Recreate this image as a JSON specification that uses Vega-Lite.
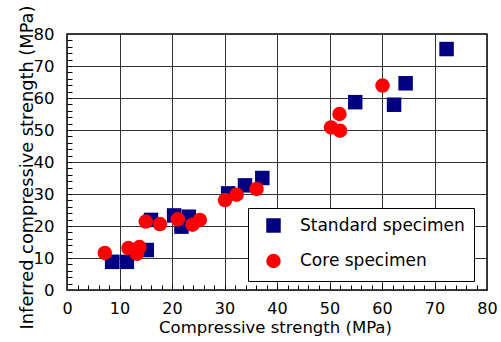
{
  "$schema": "https://vega.github.io/schema/vega-lite/v6.json",
  "width": 420,
  "height": 256,
  "autosize": {"type": "none"},
  "padding": {"left": 67, "top": 34, "right": 14, "bottom": 52},
  "background": "white",
  "config": {
    "view": {"stroke": "black", "strokeWidth": 1.5},
    "font": "DejaVu Sans",
    "axis": {"labelFont": "DejaVu Sans", "titleFont": "DejaVu Sans", "labelColor": "black", "titleColor": "black", "titleFontWeight": "normal"}
  },
  "data": {"values": [
    {"type": "Standard specimen", "x": 8.6, "y": 8.8},
    {"type": "Standard specimen", "x": 11.4, "y": 8.8},
    {"type": "Standard specimen", "x": 15.2, "y": 12.5},
    {"type": "Standard specimen", "x": 16.0, "y": 21.9},
    {"type": "Standard specimen", "x": 20.4, "y": 23.3},
    {"type": "Standard specimen", "x": 23.2, "y": 22.9},
    {"type": "Standard specimen", "x": 21.8, "y": 19.8},
    {"type": "Standard specimen", "x": 30.7, "y": 30.2},
    {"type": "Standard specimen", "x": 33.9, "y": 32.7},
    {"type": "Standard specimen", "x": 37.2, "y": 35.0},
    {"type": "Standard specimen", "x": 54.9, "y": 58.7},
    {"type": "Standard specimen", "x": 62.3, "y": 57.9},
    {"type": "Standard specimen", "x": 64.5, "y": 64.6},
    {"type": "Standard specimen", "x": 72.3, "y": 75.3},
    {"type": "Core specimen", "x": 7.2, "y": 11.6},
    {"type": "Core specimen", "x": 11.7, "y": 13.1},
    {"type": "Core specimen", "x": 13.8, "y": 13.4},
    {"type": "Core specimen", "x": 13.3, "y": 11.3},
    {"type": "Core specimen", "x": 15.0, "y": 21.4},
    {"type": "Core specimen", "x": 17.7, "y": 20.6},
    {"type": "Core specimen", "x": 21.1, "y": 22.1},
    {"type": "Core specimen", "x": 23.9, "y": 20.4},
    {"type": "Core specimen", "x": 25.3, "y": 21.9},
    {"type": "Core specimen", "x": 30.1, "y": 28.1},
    {"type": "Core specimen", "x": 32.3, "y": 29.8},
    {"type": "Core specimen", "x": 36.1, "y": 31.6},
    {"type": "Core specimen", "x": 50.3, "y": 50.8},
    {"type": "Core specimen", "x": 52.0, "y": 49.8},
    {"type": "Core specimen", "x": 51.9, "y": 55.0},
    {"type": "Core specimen", "x": 60.1, "y": 63.9}
  ]},
  "layer": [
    {
      "mark": {"type": "point", "opacity": 0},
      "encoding": {
        "x": {"field": "x", "type": "quantitative", "scale": {"domain": [0, 80], "nice": false, "zero": false},
          "axis": {"orient": "bottom", "offset": -5, "values": [2,4,6,8,10,12,14,16,18,20,22,24,26,28,30,32,34,36,38,40,42,44,46,48,50,52,54,56,58,60,62,64,66,68,70,72,74,76,78], "labels": false, "grid": false, "domain": false, "ticks": true, "tickSize": 5, "tickColor": "black", "tickWidth": 1, "tickOpacity": 1, "title": null}},
        "y": {"field": "y", "type": "quantitative", "scale": {"domain": [0, 80], "nice": false, "zero": false},
          "axis": {"orient": "left", "offset": -5, "values": [2,4,6,8,10,12,14,16,18,20,22,24,26,28,30,32,34,36,38,40,42,44,46,48,50,52,54,56,58,60,62,64,66,68,70,72,74,76,78], "labels": false, "grid": false, "domain": false, "ticks": true, "tickSize": 5, "tickColor": "black", "tickWidth": 1, "tickOpacity": 1, "title": null}}
      }
    },
    {
      "mark": {"type": "point", "filled": true, "opacity": 1, "size": 210},
      "encoding": {
        "x": {"field": "x", "type": "quantitative", "scale": {"domain": [0, 80], "nice": false, "zero": false},
          "axis": {"orient": "bottom", "values": [0,10,20,30,40,50,60,70,80], "grid": true, "gridColor": "#333", "gridWidth": 1, "gridOpacity": 1, "ticks": false, "tickSize": 0, "domain": false, "labelFontSize": 16, "labelPadding": 10, "labelFlush": false, "title": "Compressive strength (MPa)", "titleFontSize": 16.5, "titleBaseline": "alphabetic", "titleY": 42, "titleX": 208, "titleAnchor": "middle"}},
        "y": {"field": "y", "type": "quantitative", "scale": {"domain": [0, 80], "nice": false, "zero": false},
          "axis": {"orient": "left", "values": [0,10,20,30,40,50,60,70,80], "grid": true, "gridColor": "#333", "gridWidth": 1, "gridOpacity": 1, "ticks": false, "tickSize": 0, "domain": false, "labelFontSize": 16.5, "labelPadding": 13, "labelFlush": false, "title": "Inferred compressive strength (MPa)", "titleFontSize": 17.8, "titleAngle": -90, "titleBaseline": "alphabetic", "titleX": -35, "titleY": 133, "titleAlign": "center"}},
        "color": {"field": "type", "type": "nominal",
          "scale": {"domain": ["Standard specimen", "Core specimen"], "range": ["#000080", "#ff0000"]},
          "legend": {"title": null, "orient": "none", "legendX": 181, "legendY": 174, "fillColor": "white", "strokeColor": "black", "padding": 9, "rowPadding": 14.5, "symbolOffset": 8, "labelOffset": 18, "labelFontSize": 17, "labelFont": "DejaVu Sans", "labelColor": "black", "symbolSize": 210, "symbolOpacity": 1, "labelLimit": 300}},
        "shape": {"field": "type", "type": "nominal",
          "scale": {"domain": ["Standard specimen", "Core specimen"], "range": ["square", "circle"]}}
      }
    }
  ],
  "resolve": {"scale": {"x": "independent", "y": "independent"}, "axis": {"x": "independent", "y": "independent"}}
}
